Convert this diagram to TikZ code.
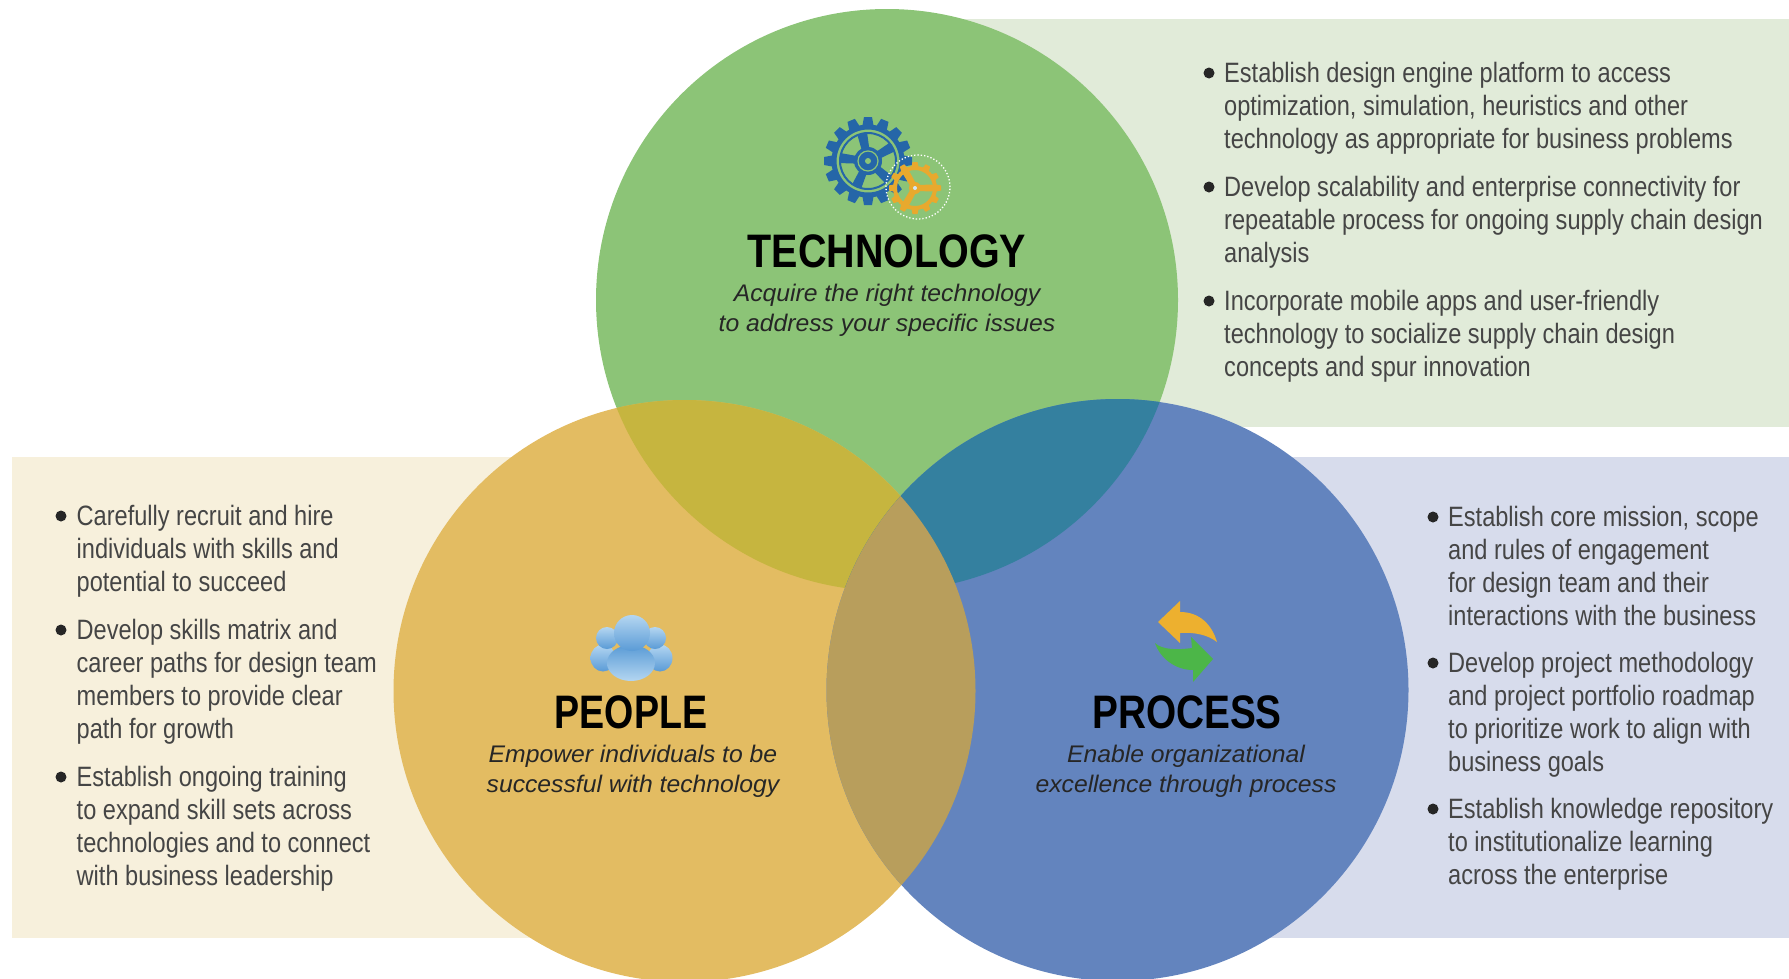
\documentclass[tikz,border=0pt]{standalone}
\usepackage{fontspec}
\setmainfont{Liberation Sans}
\newfontfamily\bodyf[FakeStretch=0.842]{Liberation Sans}
\newfontfamily\titlef[FakeStretch=0.84]{Liberation Sans Bold}
\newfontfamily\titlefp[FakeStretch=0.80]{Liberation Sans Bold}
\newfontfamily\titlefr[FakeStretch=0.825]{Liberation Sans Bold}
\newfontfamily\subf[FakeStretch=1.03]{Liberation Sans Italic}
\definecolor{cgreen}{HTML}{8CC477}
\definecolor{cyellow}{HTML}{E3BC62}
\definecolor{cblue}{HTML}{6384BE}
\definecolor{pgreen}{HTML}{E1EBD9}
\definecolor{pyellow}{HTML}{F7F0DC}
\definecolor{pblue}{HTML}{D7DCEC}
\definecolor{olive}{HTML}{C6B53F}
\definecolor{teal2}{HTML}{34809F}
\definecolor{tan2}{HTML}{B89E5C}
\definecolor{bodyc}{HTML}{454545}
\definecolor{gearb}{HTML}{2566A8}
\definecolor{gearo}{HTML}{E8A92E}
\definecolor{iconl}{HTML}{B4D6F1}
\definecolor{icond}{HTML}{5A9BD6}
\definecolor{arrowo}{HTML}{EDB02F}
\definecolor{arrowg}{HTML}{4CB648}
\tikzset{
  bodytext/.style={anchor=north west,inner sep=0pt,align=left,text=bodyc,
    font=\bodyf\fontsize{28}{33}\selectfont,execute at begin node={\rule{0pt}{22pt}}},
  bulletdot/.style={circle,fill=black!85,inner sep=0pt,minimum size=11pt},
  titletext/.style={inner sep=0pt,text=black,font=\titlef\fontsize{47}{50}\selectfont},
  subtext/.style={inner sep=0pt,align=center,text=black!85,font=\subf\fontsize{24}{30}\selectfont},
  headshade/.style={top color=iconl,bottom color=icond},
}
\begin{document}
\begin{tikzpicture}[x=1pt,y=-1pt]
\clip (0,0) rectangle (1789,978);
% panels
\fill[pgreen] (900,18.5) rectangle (1789,427);
\fill[pyellow] (12,457) rectangle (700,938);
\fill[pblue] (1100,457) rectangle (1789,938);
% circles
\coordinate (ct) at (887,300);
\coordinate (cl) at (684.5,691);
\coordinate (cr) at (1117.5,690);
\def\rad{291pt}
\fill[cgreen] (ct) circle (\rad);
\fill[cyellow] (cl) circle (\rad);
\fill[cblue] (cr) circle (\rad);
\begin{scope}
  \clip (ct) circle (\rad);
  \fill[olive] (cl) circle (\rad);
  \fill[teal2] (cr) circle (\rad);
\end{scope}
\begin{scope}
  \clip (cl) circle (\rad);
  \fill[tan2] (cr) circle (\rad);
\end{scope}
% blue gear
\begin{scope}[shift={(868,161)}]
  \foreach \a in {0,22.5,...,337.5}
    \fill[gearb,rotate=\a] (-6,-33) -- (-4,-44) -- (4,-44) -- (6,-33) -- cycle;
  \draw[gearb,line width=5pt] (0,0) circle (34pt);
  \draw[gearb,line width=2pt] (0,0) circle (28pt);
  \foreach \a in {12,84,156,228,300}
    \fill[gearb,rotate=\a] (-3,0) -- (-5,-28) -- (5,-28) -- (3,0) -- cycle;
  \fill[gearb] (0,0) circle (14pt);
  \draw[cgreen,line width=1.2pt] (0,0) circle (10pt);
  \fill[cgreen] (0,0) circle (3pt);
\end{scope}
% orange gear
\draw[white,line width=1.3pt,dotted] (918,187) circle (32pt);
\begin{scope}[shift={(915,188)}]
  \foreach \a in {0,30,...,330}
    \fill[gearo,rotate=\a] (-4,-19) -- (-2.5,-26) -- (2.5,-26) -- (4,-19) -- cycle;
  \draw[gearo,line width=4pt] (0,0) circle (20pt);
  \foreach \a in {30,150,270}
    \fill[gearo,rotate=\a] (-3,0) -- (-3.5,-20) -- (3.5,-20) -- (3,0) -- cycle;
  \fill[gearo] (0,0) circle (6pt);
  \fill[iconl!60!white] (0,0) circle (2pt);
\end{scope}
% people icon
\shade[headshade] (603,658) ellipse (12.5pt and 13.5pt);
\shade[headshade] (660,658) ellipse (12.5pt and 13.5pt);
\shade[headshade] (607,638) circle (11pt);
\shade[headshade] (655,638) circle (11pt);
\shade[top color=icond,bottom color=iconl] (631,663) ellipse (24pt and 18pt);
\shade[headshade] (632,633) circle (18pt);
% process arrows
\fill[arrowo] (1158,622) -- (1180,601) -- (1180,612)
  .. controls (1200,612) and (1212,625) .. (1217,642)
  .. controls (1208,635) and (1195,632) .. (1180,633)
  -- (1180,643) -- cycle;
\fill[arrowg] (1213,659) -- (1191,637) -- (1192,648)
  .. controls (1178,650) and (1162,650) .. (1155,643)
  .. controls (1160,658) and (1175,670) .. (1193,670)
  -- (1193,682) -- cycle;
% titles
\node[titletext] (ttech) at (887,251) {TECHNOLOGY};
\node[subtext] (stech) at (887,310) {Acquire the right technology\\to address your specific issues};
\node[titletext,font=\titlefp\fontsize{47}{50}\selectfont] (tpeop) at (631,712) {PEOPLE};
\node[subtext] (speop) at (633,771) {Empower individuals to be\\successful with technology};
\node[titletext,font=\titlefr\fontsize{47}{50}\selectfont] (tproc) at (1187,712) {PROCESS};
\node[subtext] (sproc) at (1186,771) {Enable organizational\\excellence through process};
% technology list
\node[bulletdot] (b1) at (1209,73) {};
\node[bodytext] (t1) at (1224,62) {Establish design engine platform to access\\optimization, simulation, heuristics and other\\technology as appropriate for business problems};
\node[bulletdot] (b2) at (1209,187) {};
\node[bodytext] (t2) at (1224,176) {Develop scalability and enterprise connectivity for\\repeatable process for ongoing supply chain design\\analysis};
\node[bulletdot] (b3) at (1209,301) {};
\node[bodytext] (t3) at (1224,290) {Incorporate mobile apps and user-friendly\\technology to socialize supply chain design\\concepts and spur innovation};
% people list
\node[bulletdot] (b4) at (61,516) {};
\node[bodytext] (t4) at (76.5,505) {Carefully recruit and hire\\individuals with skills and\\potential to succeed};
\node[bulletdot] (b5) at (61,630) {};
\node[bodytext] (t5) at (76.5,619) {Develop skills matrix and\\career paths for design team\\members to provide clear\\path for growth};
\node[bulletdot] (b6) at (61,777) {};
\node[bodytext] (t6) at (76.5,766) {Establish ongoing training\\to expand skill sets across\\technologies and to connect\\with business leadership};
% process list
\node[bulletdot] (b7) at (1433,517) {};
\node[bodytext] (t7) at (1448,506) {Establish core mission, scope\\and rules of engagement\\for design team and their\\interactions with the business};
\node[bulletdot] (b8) at (1433,663) {};
\node[bodytext] (t8) at (1448,652) {Develop project methodology\\and project portfolio roadmap\\to prioritize work to align with\\business goals};
\node[bulletdot] (b9) at (1433,809) {};
\node[bodytext] (t9) at (1448,798) {Establish knowledge repository\\to institutionalize learning\\across the enterprise};
\end{tikzpicture}
\end{document}
